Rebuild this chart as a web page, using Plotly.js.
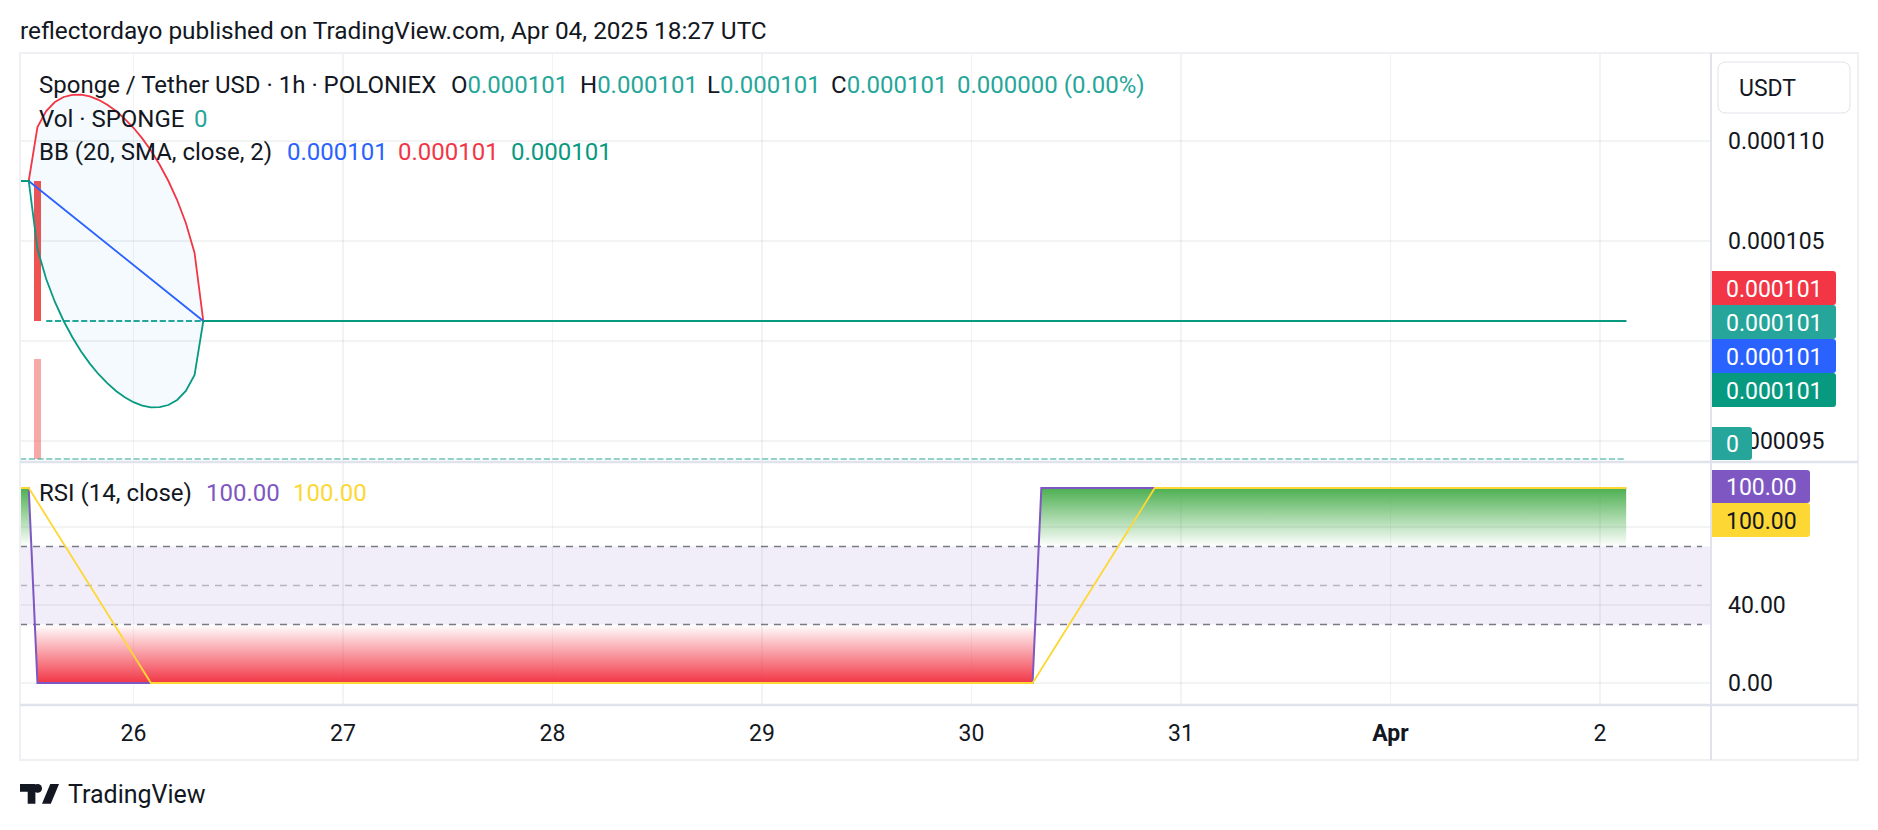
<!DOCTYPE html>
<html>
<head>
<meta charset="utf-8">
<script src="https://cdn.plot.ly/plotly-3.0.1.min.js"></script>
<style>
html,body{margin:0;padding:0;background:#ffffff;}
#chart{width:1878px;height:830px;}
</style>
</head>
<body>
<div id="chart"></div>
<script>
// ---------------- DATA ----------------
const dayTicks  = ['2025-03-26','2025-03-27','2025-03-28','2025-03-29','2025-03-30','2025-03-31','2025-04-01','2025-04-02'];
const dayLabels = ['26','27','28','29','30','31','<b>Apr</b>','2'];

// price scale ticks (0.000100 sits under the value labels and is not visible)
const priceTicks  = [0.000095, 0.000100, 0.000105, 0.000110];
const priceLabels = ['0.000095','','0.000105','0.000110'];
// RSI scale ticks (80.00 sits under the value labels and is not visible)
const rsiTicks  = [0, 40, 80];
const rsiLabels = ['0.00','40.00',''];

// the one non-flat candle (hourly bars)
const candleTime   = ['2025-03-25 13:00'];
const candleOpen   = [0.000108];
const candleClose  = [0.000101];
const candleVolume = [1000];

// flat (O=H=L=C) candles: first and last bar of each flat run
const flatTimes  = ['2025-03-25 11:00','2025-03-25 12:00', null, '2025-03-25 14:00','2025-04-02 03:00'];
const flatPrices = [0.000108, 0.000108, null, 0.000101, 0.000101];

// zero-volume bars: first and last bar
const zeroVolTimes = ['2025-03-25 11:00','2025-04-02 03:00'];
const zeroVolumes  = [0, 0];

// Bollinger Bands (20, SMA, close, 2)
const bbTimes = ['2025-03-25 11:00','2025-03-25 12:00','2025-03-25 13:00','2025-03-25 14:00','2025-03-25 15:00',
  '2025-03-25 16:00','2025-03-25 17:00','2025-03-25 18:00','2025-03-25 19:00','2025-03-25 20:00','2025-03-25 21:00',
  '2025-03-25 22:00','2025-03-25 23:00','2025-03-26 00:00','2025-03-26 01:00','2025-03-26 02:00','2025-03-26 03:00',
  '2025-03-26 04:00','2025-03-26 05:00','2025-03-26 06:00','2025-03-26 07:00','2025-03-26 08:00','2025-04-02 03:00'];
const bbUpper = [0.000108,0.000108,0.0001107,0.0001115,0.00011195,0.0001122,0.00011231,0.00011232,0.00011223,
  0.00011206,0.00011181,0.0001115,0.00011111,0.00011066,0.00011013,0.00010952,0.00010881,0.000108,0.00010705,
  0.0001059,0.0001044,0.000101,0.000101];
const bbBasis = [0.000108,0.000108,0.00010765,0.0001073,0.00010695,0.0001066,0.00010625,0.0001059,0.00010555,
  0.0001052,0.00010485,0.0001045,0.00010415,0.0001038,0.00010345,0.0001031,0.00010275,0.0001024,0.00010205,
  0.0001017,0.00010135,0.000101,0.000101];
const bbLower = [0.000108,0.000108,0.0001046,0.0001031,0.00010195,0.000101,0.00010019,0.00009948,0.00009887,
  0.00009834,0.00009789,0.0000975,0.00009719,0.00009694,0.00009677,0.00009668,0.00009669,0.0000968,0.00009705,
  0.0000975,0.0000983,0.000101,0.000101];

// RSI (14, close) and its SMA(14): vertices where the lines change direction
const rsiTimes  = ['2025-03-25 11:00','2025-03-25 12:00','2025-03-25 13:00','2025-03-30 07:00','2025-03-30 08:00','2025-04-02 03:00'];
const rsiValues = [100, 100, 0, 0, 100, 100];
const rsiMaTimes  = ['2025-03-25 11:00','2025-03-25 12:00','2025-03-26 02:00','2025-03-30 07:00','2025-03-30 21:00','2025-04-02 03:00'];
const rsiMaValues = [100, 100, 0, 0, 100, 100];
const rsiLevels = {upper: 70, middle: 50, lower: 30};

// ---------------- LAYOUT HELPERS ----------------
const FONT = 'Roboto, "Noto Sans", sans-serif';
const L = 20, R = 1711, T = 53, B = 705, SEP = 462;
const PW = R - L, PH = B - T;
const px = x => (x - L) / PW;
const py = y => (B - y) / PH;
const HOUR = 3600000;
const ms = s => { const [d, t] = s.split(' '); const [Y, M, D] = d.split('-').map(Number); const [h, m] = (t || '00:00').split(':').map(Number); return Date.UTC(Y, M - 1, D, h, m); };

const COL = {text:'#131722', up:'#26A69A', down:'#EF5350', bbU:'#F23645', bbB:'#2962FF', bbL:'#089981',
             rsi:'#7E57C2', rsiMa:'#FDD835', grid:'rgba(42,46,57,0.06)', frame:'#E0E3EB'};

// region between a polyline and a level, on the side beyond the level
function clipRegion(times, vals, level, above) {
  const xs = [], ys = [];
  for (let i = 0; i < times.length; i++) {
    const t = ms(times[i]), v = vals[i];
    if (i > 0) {
      const t0 = ms(times[i - 1]), v0 = vals[i - 1];
      if ((v0 - level) * (v - level) < 0) {
        const f = (level - v0) / (v - v0);
        xs.push(t0 + f * (t - t0)); ys.push(level);
      }
    }
    xs.push(t); ys.push(above ? Math.max(v, level) : Math.min(v, level));
  }
  xs.push(xs[xs.length - 1]); ys.push(level);
  xs.push(xs[0]); ys.push(level);
  return {xs, ys};
}

function rrect(x0, y0, x1, y1, r) {
  const X = px, Y = py;
  return `M${X(x0)},${Y(y0)} L${X(x1 - r)},${Y(y0)} Q${X(x1)},${Y(y0)} ${X(x1)},${Y(y0 + r)} ` +
         `L${X(x1)},${Y(y1 - r)} Q${X(x1)},${Y(y1)} ${X(x1 - r)},${Y(y1)} L${X(x0)},${Y(y1)} Z`;
}
function rrectAll(x0, y0, x1, y1, r) {
  const X = px, Y = py;
  return `M${X(x0 + r)},${Y(y0)} L${X(x1 - r)},${Y(y0)} Q${X(x1)},${Y(y0)} ${X(x1)},${Y(y0 + r)} ` +
         `L${X(x1)},${Y(y1 - r)} Q${X(x1)},${Y(y1)} ${X(x1 - r)},${Y(y1)} L${X(x0 + r)},${Y(y1)} ` +
         `Q${X(x0)},${Y(y1)} ${X(x0)},${Y(y1 - r)} L${X(x0)},${Y(y0 + r)} Q${X(x0)},${Y(y0)} ${X(x0 + r)},${Y(y0)} Z`;
}

const shapes = [];
const annotations = [];
function txt(text, x, y, size, color, extra) {
  annotations.push(Object.assign({text, xref:'paper', yref:'paper', x:px(x), y:py(y), xanchor:'left', yanchor:'middle',
    showarrow:false, font:{family:FONT, size, color}}, extra || {}));
}
function box(text, x0, x1, y0, y1, bg, fg) {
  shapes.push({type:'path', xref:'paper', yref:'paper', path:rrect(x0, y0, x1, y1, 3), fillcolor:bg, line:{width:0}, layer:'above'});
  txt(text, (x0 + x1) / 2, (y0 + y1) / 2 + 1, 23, fg, {xanchor:'center'});
}
function hline(x0, x1, y, color, width) {
  shapes.push({type:'line', xref:'paper', yref:'paper', x0:px(x0), x1:px(x1), y0:py(y), y1:py(y), line:{color, width}, layer:'above'});
}
function vline(x, y0, y1, color, width) {
  shapes.push({type:'line', xref:'paper', yref:'paper', x0:px(x), x1:px(x), y0:py(y0), y1:py(y1), line:{color, width}, layer:'above'});
}

// ---------------- TRACES ----------------
const traces = [];
// candle body
traces.push({type:'bar', x:candleTime, base:candleClose, y:candleOpen.map((o, i) => o - candleClose[i]),
  width:candleTime.map(() => 0.86 * HOUR), marker:{color:COL.down, line:{width:0}}, xaxis:'x', yaxis:'y', hoverinfo:'skip'});
// BB background fill
traces.push({type:'scatter', mode:'lines', x:bbTimes, y:bbUpper, line:{width:0, color:'rgba(0,0,0,0)'}, xaxis:'x', yaxis:'y', hoverinfo:'skip'});
traces.push({type:'scatter', mode:'lines', x:bbTimes, y:bbLower, line:{width:0, color:'rgba(0,0,0,0)'}, fill:'tonexty',
  fillcolor:'rgba(33,150,243,0.05)', xaxis:'x', yaxis:'y', hoverinfo:'skip'});
// flat candles
traces.push({type:'scatter', mode:'lines', x:flatTimes, y:flatPrices, connectgaps:false,
  line:{color:COL.up, width:1.8, dash:'6.2px,2.53px'}, xaxis:'x', yaxis:'y', hoverinfo:'skip'});
// BB lines
traces.push({type:'scatter', mode:'lines', x:bbTimes, y:bbUpper, line:{color:COL.bbU, width:1.8}, xaxis:'x', yaxis:'y'});
traces.push({type:'scatter', mode:'lines', x:bbTimes, y:bbBasis, line:{color:COL.bbB, width:1.8}, xaxis:'x', yaxis:'y'});
traces.push({type:'scatter', mode:'lines', x:bbTimes, y:bbLower, line:{color:COL.bbL, width:1.8}, xaxis:'x', yaxis:'y'});
// volume
traces.push({type:'bar', x:candleTime, y:candleVolume, width:candleTime.map(() => 0.78 * HOUR),
  marker:{color:'rgba(239,83,80,0.5)', line:{width:0}}, xaxis:'x', yaxis:'y3', hoverinfo:'skip'});
traces.push({type:'scatter', mode:'lines', x:zeroVolTimes, y:zeroVolumes, line:{color:'rgba(38,166,154,0.5)', width:1.8, dash:'6.2px,2.53px'},
  xaxis:'x', yaxis:'y3', hoverinfo:'skip'});

// RSI gradient zones
const ob = clipRegion(rsiTimes, rsiValues, rsiLevels.upper, true);
const os = clipRegion(rsiTimes, rsiValues, rsiLevels.lower, false);
traces.push({type:'scatter', mode:'lines', x:ob.xs, y:ob.ys, fill:'toself', line:{width:0, color:'rgba(0,0,0,0)'},
  fillgradient:{type:'vertical', start:rsiLevels.upper, stop:100,
    colorscale:[[0,'rgba(76,175,80,0)'],[1,'rgba(76,175,80,1)']]}, xaxis:'x', yaxis:'y2', hoverinfo:'skip'});
traces.push({type:'scatter', mode:'lines', x:os.xs, y:os.ys, fill:'toself', line:{width:0, color:'rgba(0,0,0,0)'},
  fillgradient:{type:'vertical', start:0, stop:rsiLevels.lower,
    colorscale:[[0,'rgba(242,54,69,1)'],[1,'rgba(242,54,69,0)']]}, xaxis:'x', yaxis:'y2', hoverinfo:'skip'});
traces.push({type:'scatter', mode:'lines', x:rsiTimes, y:rsiValues, line:{color:COL.rsi, width:2}, xaxis:'x', yaxis:'y2'});
traces.push({type:'scatter', mode:'lines', x:rsiMaTimes, y:rsiMaValues, line:{color:COL.rsiMa, width:1.8}, xaxis:'x', yaxis:'y2'});

// ---------------- SHAPES ----------------
// RSI band and levels
shapes.push({type:'rect', xref:'paper', yref:'y2', x0:0, x1:1, y0:rsiLevels.lower, y1:rsiLevels.upper,
  fillcolor:'rgba(126,87,194,0.1)', line:{width:0}, layer:'below'});
const dashEnd = (1702 - L) / PW;
shapes.push({type:'line', xref:'paper', yref:'y2', x0:0, x1:dashEnd, y0:rsiLevels.upper, y1:rsiLevels.upper, line:{color:'#787B86', width:1.3, dash:'7px,6px'}, layer:'between'});
shapes.push({type:'line', xref:'paper', yref:'y2', x0:0, x1:dashEnd, y0:rsiLevels.middle, y1:rsiLevels.middle, line:{color:'rgba(120,123,134,0.5)', width:1.3, dash:'7px,6px'}, layer:'between'});
shapes.push({type:'line', xref:'paper', yref:'y2', x0:0, x1:dashEnd, y0:rsiLevels.lower, y1:rsiLevels.lower, line:{color:'#787B86', width:1.3, dash:'7px,6px'}, layer:'between'});

// frame
shapes.push({type:'rect', xref:'paper', yref:'paper', x0:px(L), x1:px(1858), y0:py(T), y1:py(760), line:{color:'#EEF0F3', width:2}, layer:'above'});
vline(R, T, 760, COL.frame, 2);
hline(L, 1858, SEP, COL.frame, 2.5);
hline(L, 1858, B, COL.frame, 2.5);

// right-axis value labels
box('0.000101', 1712, 1836, 271, 305, '#F23645', '#ffffff');
box('0.000101', 1712, 1836, 305, 339, COL.up, '#ffffff');
box('0.000101', 1712, 1836, 339, 373, COL.bbB, '#ffffff');
box('0.000101', 1712, 1836, 373, 407, COL.bbL, '#ffffff');
box('0', 1712, 1752, 427, 460, COL.up, '#ffffff');
box('100.00', 1712, 1810, 470, 503, COL.rsi, '#ffffff');
box('100.00', 1712, 1810, 503, 537, COL.rsiMa, COL.text);

// USDT button
shapes.push({type:'path', xref:'paper', yref:'paper', path:rrectAll(1718, 62, 1850, 113, 8), fillcolor:'#ffffff', line:{color:'#E0E3EB', width:1}, layer:'above'});
txt('USDT', 1737, 88, 23, COL.text);

// legends
const FS = 24;
const teal = s => `<span style="color:${COL.up}">${s}</span>`;
txt('Sponge / Tether USD · 1h · POLONIEX', 37, 85, FS, COL.text);
txt('O' + teal('0.000101'), 449, 85, FS, COL.text);
txt('H' + teal('0.000101'), 578, 85, FS, COL.text);
txt('L' + teal('0.000101'), 705, 85, FS, COL.text);
txt('C' + teal('0.000101'), 829, 85, FS, COL.text);
txt('0.000000 (0.00%)', 955, 85, FS, COL.up);
txt('Vol · SPONGE', 37, 119, FS, COL.text);
txt('0', 192, 119, FS, COL.up);
txt('BB (20, SMA, close, 2)', 37, 152, FS, COL.text);
txt('0.000101', 285, 152, FS, COL.bbB);
txt('0.000101', 396, 152, FS, COL.bbU);
txt('0.000101', 509, 152, FS, COL.bbL);
txt('RSI (14, close)', 37, 493, FS, COL.text);
txt('100.00', 204, 493, FS, COL.rsi);
txt('100.00', 291, 493, FS, COL.rsiMa);

// TradingView logo
const u = 1.1, ox = 20, oy = 784 - 4 * u;
const P = (X, Y) => `${px(ox + u * X)},${py(oy + u * Y)}`;
shapes.push({type:'path', xref:'paper', yref:'paper', path:`M${P(0,4)} L${P(14,4)} L${P(14,22)} L${P(7,22)} L${P(7,11)} L${P(0,11)} Z`, fillcolor:'#131722', line:{width:0}, layer:'above'});
shapes.push({type:'circle', xref:'paper', yref:'paper', x0:px(ox + 12 * u), x1:px(ox + 20 * u), y0:py(oy + 4 * u), y1:py(oy + 12 * u), fillcolor:'#131722', line:{width:0}, layer:'above'});
shapes.push({type:'path', xref:'paper', yref:'paper', path:`M${P(20,22)} L${P(27.5,4)} L${P(35.5,4)} L${P(28,22)} Z`, fillcolor:'#131722', line:{width:0}, layer:'above'});
txt('TradingView', 66, 794, 25, COL.text);

// ---------------- LAYOUT ----------------
const layout = {
  width:1878, height:830,
  margin:{l:L, r:1878 - R, t:T, b:830 - B, pad:0},
  paper_bgcolor:'#ffffff', plot_bgcolor:'rgba(0,0,0,0)',
  showlegend:false, hovermode:false, bargap:0,
  font:{family:FONT, color:COL.text},
  title:{text:'reflectordayo published on TradingView.com, Apr 04, 2025 18:27 UTC', xref:'container', yref:'container',
    x:20 / 1878, xanchor:'left', y:1 - 30 / 830, yanchor:'middle', font:{family:FONT, size:24.4, color:COL.text}},
  xaxis:{type:'date', anchor:'y2', range:['2025-03-25 11:00','2025-04-02 12:43'], tickmode:'array',
    tickvals:dayTicks, ticktext:dayLabels, showgrid:true, gridcolor:COL.grid, gridwidth:1.5, ticks:'',
    ticklabelstandoff:12, tickfont:{family:FONT, size:23, color:COL.text}, showline:false, zeroline:false, fixedrange:true},
  yaxis:{domain:[py(SEP), 1], range:[0.00009395, 0.0001144], side:'right', tickmode:'array', tickvals:priceTicks,
    ticktext:priceLabels, showgrid:true, gridcolor:COL.grid, gridwidth:1.5, ticks:'', ticklabelstandoff:16,
    tickfont:{family:FONT, size:23, color:COL.text}, zeroline:false, showline:false, fixedrange:true},
  yaxis2:{domain:[0, py(SEP)], range:[-11.28, 113.33], side:'right', tickmode:'array', tickvals:rsiTicks,
    ticktext:rsiLabels, showgrid:true, gridcolor:COL.grid, gridwidth:1.5, ticks:'', ticklabelstandoff:16,
    tickfont:{family:FONT, size:23, color:COL.text}, zeroline:false, showline:false, fixedrange:true},
  yaxis3:{overlaying:'y', range:[-30, 4060], visible:false, fixedrange:true},
  shapes, annotations
};

Plotly.newPlot('chart', traces, layout, {staticPlot:true, displayModeBar:false});
</script>
</body>
</html>
